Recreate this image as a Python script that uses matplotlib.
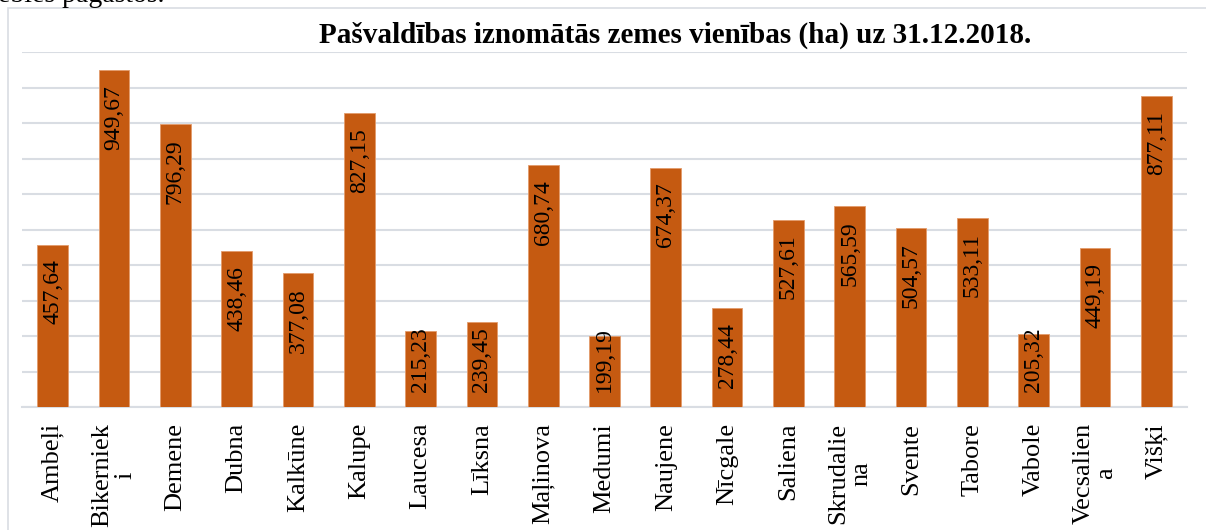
import matplotlib.pyplot as plt
from matplotlib.patches import Rectangle

# Pašvaldības iznomātās zemes vienības (ha) uz 31.12.2018.
pagasti = ["Ambeļi", "Bikerniek\ni", "Demene", "Dubna", "Kalkūne", "Kalupe",
           "Laucesa", "Līksna", "Maļinova", "Medumi", "Naujene", "Nīcgale",
           "Saliena", "Skrudalie\nna", "Svente", "Tabore", "Vabole",
           "Vecsalien\na", "Višķi"]
platiba = [457.64, 949.67, 796.29, 438.46, 377.08, 827.15, 215.23, 239.45,
           680.74, 199.19, 674.37, 278.44, 527.61, 565.59, 504.57, 533.11,
           205.32, 449.19, 877.11]
y_ticks = list(range(0, 1001, 100))

W, H = 1206, 530
plt.rcParams['font.family'] = ['Liberation Serif', 'DejaVu Serif']

fig = plt.figure(figsize=(W / 100, H / 100), dpi=100)
ax = fig.add_axes([22 / W, 123 / H, (1187 - 22) / W, (478 - 123) / H])

bar_color = '#C55A11'
grid_color = '#D9DDE3'
x = range(len(pagasti))
ax.bar(x, platiba, width=0.5, color=bar_color, edgecolor='#E39B6B',
       linewidth=0.6, zorder=3)

ax.set_xlim(-0.5, len(pagasti) - 0.5)
ax.set_ylim(0, 1000)
ax.set_yticks(y_ticks)
ax.yaxis.grid(True, color=grid_color, linewidth=1.5, zorder=0)
ax.tick_params(axis='y', left=False, labelleft=False)
ax.tick_params(axis='x', bottom=False, pad=8)
ax.set_xticks(list(x))
ax.set_xticklabels(pagasti, rotation=90, fontsize=19, va='top',
                   ha='center', multialignment='center', linespacing=1.05)
for side in ['top', 'right', 'left']:
    ax.spines[side].set_visible(False)
ax.spines['bottom'].set_color(grid_color)
ax.spines['bottom'].set_linewidth(1.5)

# value labels inside bars
for i, v in enumerate(platiba):
    txt = f"{v:.2f}".replace('.', ',')
    if v >= 265:
        ax.annotate(txt, (i, v), xytext=(0, -15), textcoords='offset pixels',
                    rotation=90, ha='center', va='top', fontsize=17, zorder=4)
    else:
        ax.annotate(txt, (i, 0), xytext=(0, 15), textcoords='offset pixels',
                    rotation=90, ha='center', va='bottom', fontsize=17, zorder=4)

fig.text(675 / W, 1 - 35 / H,
         "Pašvaldības iznomātās zemes vienības (ha) uz 31.12.2018.",
         ha='center', va='center', fontsize=21, fontweight='bold')

# chart frame and cut-off text above it
fig.patches.append(Rectangle((8 / W, -0.1), 1.2, 1 - 8 / H + 0.1,
                             transform=fig.transFigure, fill=False,
                             edgecolor=grid_color, linewidth=1.2))
fig.text(-2 / W, 1 - 2 / H, "ebles pagastos.", ha='left', va='baseline',
         fontsize=20)

fig.savefig('out.png', dpi=100)
